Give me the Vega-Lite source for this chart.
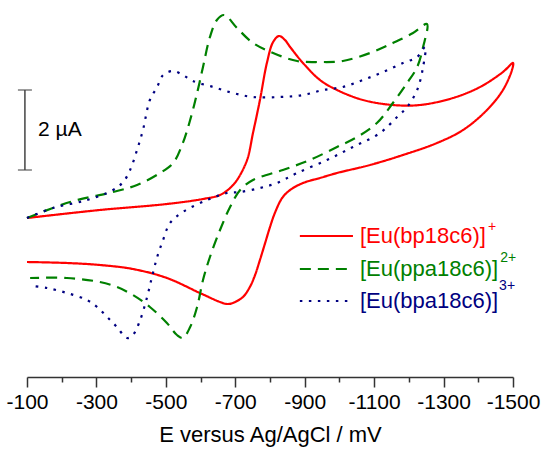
{
  "$schema": "https://vega.github.io/schema/vega-lite/v6.json",
  "width": 486,
  "height": 377,
  "autosize": {"type": "none"},
  "padding": {"left": 27, "top": 0, "right": 30, "bottom": 74},
  "background": "white",
  "config": {"view": {"stroke": null}, "font": "Liberation Sans"},
  "encoding": {
    "x": {
      "field": "E", "type": "quantitative",
      "scale": {"domain": [-1500, -100], "reverse": true, "nice": false, "zero": false},
      "axis": {
        "values": [-100, -200, -300, -400, -500, -600, -700, -800, -900, -1000, -1100, -1200, -1300, -1400, -1500],
        "labelExpr": "datum.value % 200 == 0 ? '' : toString(datum.value)",
        "tickSize": {"condition": {"test": "datum.value % 200 == 0", "value": 5}, "value": 10},
        "labelOverlap": false, "labelFlush": false,
        "grid": false,
        "domainColor": "#333333", "domainWidth": 1.5,
        "tickColor": "#333333", "tickWidth": 1.5,
        "labelFont": "Liberation Sans", "labelFontSize": 21, "labelColor": "#000000", "labelPadding": 4,
        "title": "E versus Ag/AgCl / mV",
        "titleFont": "Liberation Sans", "titleFontSize": 22, "titleFontWeight": "normal", "titleColor": "#000000", "titlePadding": 12
      }
    },
    "y": {
      "field": "I", "type": "quantitative",
      "scale": {"domain": [0, 9.425], "nice": false, "zero": false},
      "axis": null
    }
  },
  "layer": [
    {
      "data": {"values": [
        {"s":"bp","i":1,"E":-100,"I":3.975},{"s":"bp","i":2,"E":-310,"I":4.175},{"s":"bp","i":3,"E":-503,"I":4.325},{"s":"bp","i":4,"E":-607,"I":4.45},{"s":"bp","i":5,"E":-656,"I":4.55},{"s":"bp","i":6,"E":-685,"I":4.725},{"s":"bp","i":7,"E":-705,"I":4.925},{"s":"bp","i":8,"E":-734,"I":5.425},{"s":"bp","i":9,"E":-751,"I":6.1},{"s":"bp","i":10,"E":-771,"I":6.925},{"s":"bp","i":11,"E":-791,"I":7.85},{"s":"bp","i":12,"E":-809,"I":8.375},{"s":"bp","i":13,"E":-826,"I":8.525},{"s":"bp","i":14,"E":-843,"I":8.425},{"s":"bp","i":15,"E":-858,"I":8.25},{"s":"bp","i":16,"E":-895,"I":7.85},{"s":"bp","i":17,"E":-944,"I":7.425},{"s":"bp","i":18,"E":-993,"I":7.175},{"s":"bp","i":19,"E":-1068,"I":6.925},{"s":"bp","i":20,"E":-1154,"I":6.8},{"s":"bp","i":21,"E":-1232,"I":6.8},{"s":"bp","i":22,"E":-1327,"I":6.975},{"s":"bp","i":23,"E":-1405,"I":7.25},{"s":"bp","i":24,"E":-1471,"I":7.625},{"s":"bp","i":25,"E":-1500,"I":7.85},{"s":"bp","i":26,"E":-1497,"I":7.675},{"s":"bp","i":27,"E":-1471,"I":7.175},{"s":"bp","i":28,"E":-1425,"I":6.675},{"s":"bp","i":29,"E":-1356,"I":6.175},{"s":"bp","i":30,"E":-1281,"I":5.85},{"s":"bp","i":31,"E":-1183,"I":5.55},{"s":"bp","i":32,"E":-1088,"I":5.3},{"s":"bp","i":33,"E":-993,"I":5.1},{"s":"bp","i":34,"E":-944,"I":4.975},{"s":"bp","i":35,"E":-895,"I":4.85},{"s":"bp","i":36,"E":-858,"I":4.675},{"s":"bp","i":37,"E":-835,"I":4.475},{"s":"bp","i":38,"E":-814,"I":4.1},{"s":"bp","i":39,"E":-800,"I":3.75},{"s":"bp","i":40,"E":-786,"I":3.35},{"s":"bp","i":41,"E":-771,"I":2.925},{"s":"bp","i":42,"E":-757,"I":2.55},{"s":"bp","i":43,"E":-742,"I":2.25},{"s":"bp","i":44,"E":-722,"I":2.0},{"s":"bp","i":45,"E":-693,"I":1.85},{"s":"bp","i":46,"E":-676,"I":1.825},{"s":"bp","i":47,"E":-656,"I":1.875},{"s":"bp","i":48,"E":-598,"I":2.1},{"s":"bp","i":49,"E":-503,"I":2.475},{"s":"bp","i":50,"E":-405,"I":2.7},{"s":"bp","i":51,"E":-310,"I":2.8},{"s":"bp","i":52,"E":-215,"I":2.85},{"s":"bp","i":53,"E":-100,"I":2.875},
        {"s":"ppa","i":1,"E":-100,"I":3.975},{"s":"ppa","i":2,"E":-224,"I":4.375},{"s":"ppa","i":3,"E":-348,"I":4.625},{"s":"ppa","i":4,"E":-417,"I":4.8},{"s":"ppa","i":5,"E":-483,"I":5.1},{"s":"ppa","i":6,"E":-521,"I":5.35},{"s":"ppa","i":7,"E":-549,"I":5.85},{"s":"ppa","i":8,"E":-570,"I":6.425},{"s":"ppa","i":9,"E":-590,"I":7.1},{"s":"ppa","i":10,"E":-607,"I":7.75},{"s":"ppa","i":11,"E":-627,"I":8.5},{"s":"ppa","i":12,"E":-647,"I":8.925},{"s":"ppa","i":13,"E":-668,"I":9.05},{"s":"ppa","i":14,"E":-705,"I":8.725},{"s":"ppa","i":15,"E":-751,"I":8.35},{"s":"ppa","i":16,"E":-809,"I":8.1},{"s":"ppa","i":17,"E":-878,"I":7.9},{"s":"ppa","i":18,"E":-944,"I":7.875},{"s":"ppa","i":19,"E":-1010,"I":7.9},{"s":"ppa","i":20,"E":-1088,"I":8.1},{"s":"ppa","i":21,"E":-1154,"I":8.35},{"s":"ppa","i":22,"E":-1212,"I":8.6},{"s":"ppa","i":23,"E":-1252,"I":8.825},{"s":"ppa","i":24,"E":-1241,"I":8.25},{"s":"ppa","i":25,"E":-1224,"I":7.75},{"s":"ppa","i":26,"E":-1195,"I":7.35},{"s":"ppa","i":27,"E":-1154,"I":6.85},{"s":"ppa","i":28,"E":-1108,"I":6.35},{"s":"ppa","i":29,"E":-1051,"I":6.0},{"s":"ppa","i":30,"E":-993,"I":5.75},{"s":"ppa","i":31,"E":-915,"I":5.425},{"s":"ppa","i":32,"E":-837,"I":5.175},{"s":"ppa","i":33,"E":-751,"I":4.925},{"s":"ppa","i":34,"E":-714,"I":4.675},{"s":"ppa","i":35,"E":-685,"I":4.25},{"s":"ppa","i":36,"E":-656,"I":3.675},{"s":"ppa","i":37,"E":-627,"I":3.0},{"s":"ppa","i":38,"E":-607,"I":2.425},{"s":"ppa","i":39,"E":-590,"I":1.75},{"s":"ppa","i":40,"E":-570,"I":1.25},{"s":"ppa","i":41,"E":-549,"I":0.975},{"s":"ppa","i":42,"E":-532,"I":1.05},{"s":"ppa","i":43,"E":-503,"I":1.35},{"s":"ppa","i":44,"E":-454,"I":1.75},{"s":"ppa","i":45,"E":-405,"I":2.05},{"s":"ppa","i":46,"E":-359,"I":2.25},{"s":"ppa","i":47,"E":-310,"I":2.375},{"s":"ppa","i":48,"E":-215,"I":2.475},{"s":"ppa","i":49,"E":-109,"I":2.475},
        {"s":"bpa","i":1,"E":-100,"I":3.975},{"s":"bpa","i":2,"E":-175,"I":4.225},{"s":"bpa","i":3,"E":-273,"I":4.425},{"s":"bpa","i":4,"E":-348,"I":4.675},{"s":"bpa","i":5,"E":-377,"I":4.875},{"s":"bpa","i":6,"E":-397,"I":5.175},{"s":"bpa","i":7,"E":-417,"I":5.675},{"s":"bpa","i":8,"E":-434,"I":6.175},{"s":"bpa","i":9,"E":-454,"I":6.925},{"s":"bpa","i":10,"E":-475,"I":7.25},{"s":"bpa","i":11,"E":-492,"I":7.55},{"s":"bpa","i":12,"E":-521,"I":7.65},{"s":"bpa","i":13,"E":-549,"I":7.55},{"s":"bpa","i":14,"E":-578,"I":7.4},{"s":"bpa","i":15,"E":-636,"I":7.25},{"s":"bpa","i":16,"E":-693,"I":7.1},{"s":"bpa","i":17,"E":-751,"I":7.0},{"s":"bpa","i":18,"E":-829,"I":7.0},{"s":"bpa","i":19,"E":-895,"I":7.05},{"s":"bpa","i":20,"E":-953,"I":7.175},{"s":"bpa","i":21,"E":-1010,"I":7.25},{"s":"bpa","i":22,"E":-1068,"I":7.425},{"s":"bpa","i":23,"E":-1126,"I":7.625},{"s":"bpa","i":24,"E":-1183,"I":7.85},{"s":"bpa","i":25,"E":-1224,"I":8.0},{"s":"bpa","i":26,"E":-1247,"I":8.25},{"s":"bpa","i":27,"E":-1241,"I":7.75},{"s":"bpa","i":28,"E":-1224,"I":7.175},{"s":"bpa","i":29,"E":-1195,"I":6.75},{"s":"bpa","i":30,"E":-1166,"I":6.5},{"s":"bpa","i":31,"E":-1117,"I":6.1},{"s":"bpa","i":32,"E":-1039,"I":5.75},{"s":"bpa","i":33,"E":-964,"I":5.425},{"s":"bpa","i":34,"E":-878,"I":5.1},{"s":"bpa","i":35,"E":-820,"I":4.85},{"s":"bpa","i":36,"E":-771,"I":4.725},{"s":"bpa","i":37,"E":-714,"I":4.625},{"s":"bpa","i":38,"E":-676,"I":4.6},{"s":"bpa","i":39,"E":-619,"I":4.425},{"s":"bpa","i":40,"E":-549,"I":4.125},{"s":"bpa","i":41,"E":-512,"I":3.85},{"s":"bpa","i":42,"E":-492,"I":3.425},{"s":"bpa","i":43,"E":-475,"I":3.0},{"s":"bpa","i":44,"E":-460,"I":2.5},{"s":"bpa","i":45,"E":-446,"I":2.0},{"s":"bpa","i":46,"E":-426,"I":1.425},{"s":"bpa","i":47,"E":-405,"I":1.05},{"s":"bpa","i":48,"E":-388,"I":0.975},{"s":"bpa","i":49,"E":-359,"I":1.25},{"s":"bpa","i":50,"E":-331,"I":1.5},{"s":"bpa","i":51,"E":-302,"I":1.75},{"s":"bpa","i":52,"E":-273,"I":1.925},{"s":"bpa","i":53,"E":-215,"I":2.1},{"s":"bpa","i":54,"E":-158,"I":2.225},{"s":"bpa","i":55,"E":-117,"I":2.275}
      ]},
      "mark": {"type": "line", "interpolate": "catmull-rom", "strokeWidth": 2.2, "strokeCap": "butt"},
      "encoding": {
        "color": {"field": "s", "type": "nominal", "scale": {"domain": ["bp", "ppa", "bpa"], "range": ["#ff0000", "#008000", "#000080"]}, "legend": null},
        "strokeDash": {"field": "s", "type": "nominal", "scale": {"domain": ["bp", "ppa", "bpa"], "range": [[1, 0], [11, 7], [2.5, 6.5]]}, "legend": null},
        "order": {"field": "i", "type": "quantitative"}
      }
    },
    {
      "data": {"values": [{"E": -94, "I": 5.175, "I2": 7.175}]},
      "mark": {"type": "rule", "color": "#444444", "strokeWidth": 1.5},
      "encoding": {"y2": {"field": "I2"}}
    },
    {
      "data": {"values": [{"E": -94, "I": 5.175}, {"E": -94, "I": 7.175}]},
      "mark": {"type": "tick", "orient": "horizontal", "size": 14, "thickness": 1.5, "color": "#444444"}
    },
    {
      "data": {"values": [{"E": -132, "I": 6.175, "t": "2 µA"}]},
      "mark": {"type": "text", "align": "left", "baseline": "middle", "fontSize": 21, "font": "Liberation Sans", "color": "#000000"},
      "encoding": {"text": {"field": "t"}}
    },
    {
      "data": {"values": [
        {"s": "bp", "E": -886, "E2": -1039, "I": 3.525},
        {"s": "ppa", "E": -886, "E2": -1039, "I": 2.7},
        {"s": "bpa", "E": -886, "E2": -1039, "I": 1.9}
      ]},
      "mark": {"type": "rule", "strokeWidth": 2.2, "strokeCap": "butt"},
      "encoding": {
        "x2": {"field": "E2"},
        "color": {"field": "s", "type": "nominal", "legend": null},
        "strokeDash": {"field": "s", "type": "nominal", "legend": null}
      }
    },
    {
      "data": {"values": [
        {"s": "bp", "E": -1059, "I": 3.525, "t": "[Eu(bp18c6)]"},
        {"s": "ppa", "E": -1059, "I": 2.7, "t": "[Eu(ppa18c6)]"},
        {"s": "bpa", "E": -1059, "I": 1.9, "t": "[Eu(bpa18c6)]"}
      ]},
      "mark": {"type": "text", "align": "left", "baseline": "middle", "fontSize": 22, "font": "Liberation Sans"},
      "encoding": {
        "text": {"field": "t"},
        "color": {"field": "s", "type": "nominal", "legend": null}
      }
    },
    {
      "data": {"values": [
        {"s": "bp", "E": -1428, "I": 3.75, "t": "+"},
        {"s": "ppa", "E": -1463, "I": 2.975, "t": "2+"},
        {"s": "bpa", "E": -1460, "I": 2.275, "t": "3+"}
      ]},
      "mark": {"type": "text", "align": "left", "baseline": "middle", "fontSize": 14, "font": "Liberation Sans"},
      "encoding": {
        "text": {"field": "t"},
        "color": {"field": "s", "type": "nominal", "legend": null}
      }
    }
  ]
}
